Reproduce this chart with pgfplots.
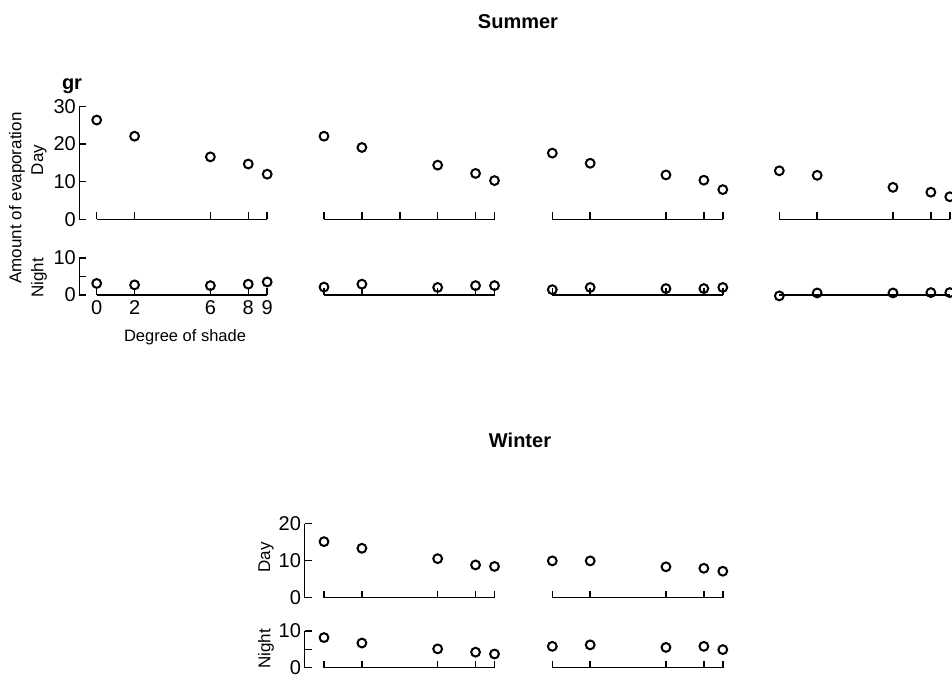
\documentclass[border=0pt]{standalone}
\usepackage{pgfplots}
\pgfplotsset{compat=1.18}
\usepackage{fontspec}
\setmainfont{Liberation Sans}

\pgfplotsset{
  base/.style={
    scale only axis, clip=false, anchor=south west,
    axis line style={line width=1.5pt, black},
    major tick style={line width=1.5pt, black},
    major tick length=7pt, tick align=inside,
    ticklabel style={font=\fontsize{20}{21}\selectfont},
    /pgf/number format/assume math mode=true,
  },
  % vertical scale only
  yscale/.style={base, axis x line=none, axis y line*=left,
    xmin=0, xmax=1, width=5pt, xtick=\empty},
  % horizontal baseline with shade-degree ticks
  row/.style={base, axis y line=none, axis x line*=bottom,
    xmin=0, xmax=9, width=170.5pt, ytick=\empty,
    xtick={0,2,6,8,9}, xticklabels={}},
  day/.style={row, ymin=0, ymax=30, height=112.8pt},
  night/.style={row, ymin=0, ymax=10, height=36.7pt},
  wday/.style={row, ymin=0, ymax=20, height=74pt},
  wnight/.style={row, ymin=0, ymax=10, height=36.5pt},
  pts/.style={only marks, mark=o, mark size=4.4pt,
    mark options={line width=2pt, black}},
}

\begin{document}
\begin{tikzpicture}
\useasboundingbox (0pt,0pt) rectangle (952pt,678pt);

% ---------------- Summer ----------------
\begin{axis}[yscale, at={(79.3pt,458.7pt)}, height=112.8pt,
  ymin=0, ymax=30, ytick={0,10,20,30}]
\end{axis}
\begin{axis}[yscale, at={(79.3pt,383.2pt)}, height=36.7pt,
  ymin=0, ymax=10, ytick={0,5,10}, yticklabels={0,,10}]
\end{axis}

% Day
\begin{axis}[day, at={(96.7pt,458.7pt)}]
  \addplot[pts] coordinates {(0,26.4) (2,22.1) (6,16.6) (8,14.7) (9,12.0)};
\end{axis}
\begin{axis}[day, at={(324pt,458.7pt)}, xtick={0,2,4,6,8,9}]
  \addplot[pts] coordinates {(0,22.1) (2,19.1) (6,14.4) (8,12.2) (9,10.3)};
\end{axis}
\begin{axis}[day, at={(552.3pt,458.7pt)}]
  \addplot[pts] coordinates {(0,17.6) (2,14.9) (6,11.8) (8,10.4) (9,7.9)};
\end{axis}
\begin{axis}[day, at={(779.3pt,458.7pt)}]
  \addplot[pts] coordinates {(0,12.9) (2,11.7) (6,8.5) (8,7.2) (9,6.0)};
\end{axis}

% Night
\begin{axis}[night, at={(96.7pt,383.2pt)}, xticklabels={0,2,6,8,9},
  xticklabel style={yshift=-2pt}]
  \addplot[pts] coordinates {(0,3.1) (2,2.7) (6,2.5) (8,2.9) (9,3.5)};
\end{axis}
\begin{axis}[night, at={(324pt,383.2pt)}]
  \addplot[pts] coordinates {(0,2.1) (2,2.9) (6,2.0) (8,2.5) (9,2.5)};
\end{axis}
\begin{axis}[night, at={(552.3pt,383.2pt)}]
  \addplot[pts] coordinates {(0,1.4) (2,2.0) (6,1.7) (8,1.7) (9,2.0)};
\end{axis}
\begin{axis}[night, at={(779.3pt,383.2pt)}, xtick=\empty]
  \addplot[pts] coordinates {(0,-0.3) (2,0.5) (6,0.5) (8,0.6) (9,0.6)};
\end{axis}

% ---------------- Winter ----------------
\begin{axis}[yscale, at={(304.5pt,80.5pt)}, height=74pt,
  ymin=0, ymax=20, ytick={0,10,20}]
\end{axis}
\begin{axis}[yscale, at={(304.5pt,10.5pt)}, height=36.5pt,
  ymin=0, ymax=10, ytick={0,5,10}, yticklabels={0,,10}]
\end{axis}

\begin{axis}[wday, at={(324pt,80.5pt)}]
  \addplot[pts] coordinates {(0,15.1) (2,13.3) (6,10.5) (8,8.8) (9,8.4)};
\end{axis}
\begin{axis}[wday, at={(552.3pt,80.5pt)}]
  \addplot[pts] coordinates {(0,9.9) (2,9.9) (6,8.3) (8,7.9) (9,7.1)};
\end{axis}
\begin{axis}[wnight, at={(324pt,10.5pt)}]
  \addplot[pts] coordinates {(0,8.2) (2,6.7) (6,5.1) (8,4.2) (9,3.7)};
\end{axis}
\begin{axis}[wnight, at={(552.3pt,10.5pt)}]
  \addplot[pts] coordinates {(0,5.8) (2,6.2) (6,5.5) (8,5.8) (9,4.9)};
\end{axis}

% ---------------- Labels ----------------
\node[font=\fontsize{20}{22}\selectfont\bfseries] at (518pt,656pt) {Summer};
\node[font=\fontsize{20}{22}\selectfont\bfseries] at (520pt,238pt) {Winter};
\node[font=\fontsize{20}{21}\selectfont\bfseries] at (72pt,592pt) {gr};
\node[font=\fontsize{17}{18}\selectfont, rotate=90] at (17pt,480pt) {Amount of evaporation};
\node[font=\fontsize{17}{18}\selectfont, rotate=90] at (39pt,518pt) {Day};
\node[font=\fontsize{17}{18}\selectfont, rotate=90] at (39pt,400pt) {Night};
\node[font=\fontsize{16.5}{18}\selectfont] at (185pt,341pt) {Degree of shade};
\node[font=\fontsize{17}{18}\selectfont, rotate=90] at (266pt,120.5pt) {Day};
\node[font=\fontsize{17}{18}\selectfont, rotate=90] at (266pt,29pt) {Night};
\end{tikzpicture}
\end{document}
